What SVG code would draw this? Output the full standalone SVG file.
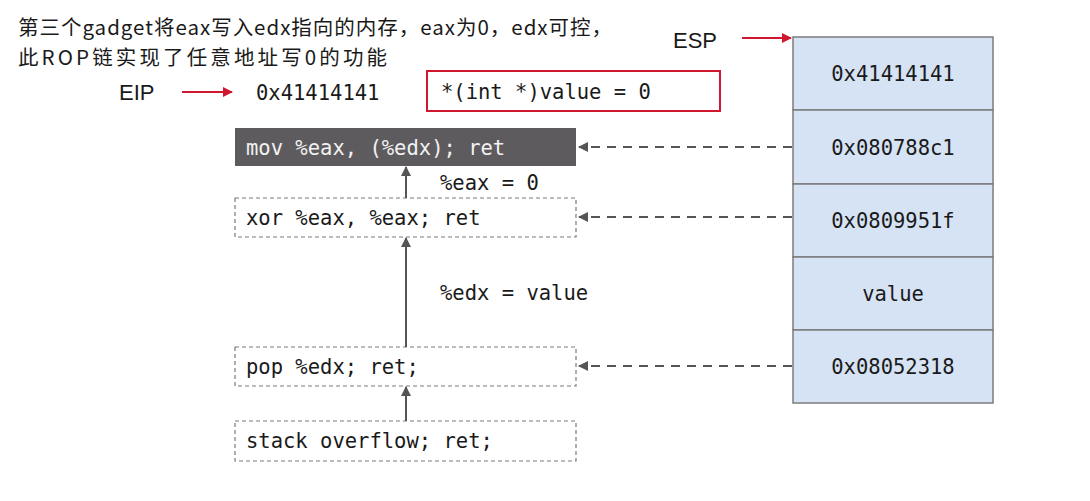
<svg xmlns="http://www.w3.org/2000/svg" width="1090" height="501" viewBox="0 0 1090 501">
<defs>
<style>
.cn{font-family:"Noto Sans CJK SC","Noto Sans",sans-serif;font-size:20.5px;fill:#1a1a1a}
.sans{font-family:"Liberation Sans",Arial,sans-serif;font-size:22px;fill:#1a1a1a}
.mono{font-family:"DejaVu Sans Mono","Liberation Mono",monospace;font-size:20.5px;fill:#1a1a1a}
.dash{fill:#ffffff;stroke:#7a7a7a;stroke-width:1.2;stroke-dasharray:4 3}
.cell{fill:#d6e3f4;stroke:#7c7c7c;stroke-width:1.5}
.red{stroke:#cf1830;stroke-width:2;fill:none}
.up{stroke:#555555;stroke-width:2;fill:none}
.ptr{stroke:#555555;stroke-width:2;fill:none;stroke-dasharray:9 7}
</style>
<marker id="ra" viewBox="0 0 10 10" refX="9" refY="5" markerWidth="10" markerHeight="10" markerUnits="userSpaceOnUse" orient="auto">
<path d="M0,0 L10,5 L0,10 z" fill="#cf1830"/>
</marker>
<marker id="ga" viewBox="0 0 10 10" refX="9" refY="5" markerWidth="10" markerHeight="12" markerUnits="userSpaceOnUse" orient="auto">
<path d="M0,0 L10,5 L0,10 z" fill="#555555"/>
</marker>
</defs>
<rect width="1090" height="501" fill="#ffffff"/>

<g id="title">
<text class="cn" x="18" y="35" textLength="594" lengthAdjust="spacing">第三个gadget将eax写入edx指向的内存，eax为0，edx可控，</text>
<text class="cn" x="18" y="65" textLength="369" lengthAdjust="spacing">此ROP链实现了任意地址写0的功能</text>
</g>

<g id="eip">
<text class="sans" x="119" y="100">EIP</text>
<text class="mono" x="256" y="100">0x41414141</text>
</g>
<g id="esp">
<text class="sans" x="673" y="48">ESP</text>
</g>
<g id="note">
<rect x="427" y="71" width="293" height="40" fill="#ffffff" class="red"/>
<text class="mono" x="441" y="99">*(int *)value = 0</text>
</g>

<g id="gadget-mov">
<rect x="235" y="128" width="341" height="38" fill="#5e5b5e"/>
<text class="mono" x="246" y="155" style="fill:#f2f2f2">mov %eax, (%edx); ret</text>
</g>
<g id="gadget-xor">
<rect class="dash" x="235" y="198" width="341" height="39"/>
<text class="mono" x="246" y="225">xor %eax, %eax; ret</text>
</g>
<g id="gadget-pop">
<rect class="dash" x="235" y="347" width="341" height="39"/>
<text class="mono" x="246" y="374">pop %edx; ret;</text>
</g>
<g id="overflow">
<rect class="dash" x="235" y="421" width="341" height="40"/>
<text class="mono" x="246" y="448">stack overflow; ret;</text>
</g>

<g id="labels">
<text class="mono" x="440" y="190">%eax = 0</text>
<text class="mono" x="440" y="300">%edx = value</text>
</g>

<g id="stack">
<rect class="cell" x="793" y="37" width="200" height="73"/>
<rect class="cell" x="793" y="110" width="200" height="74"/>
<rect class="cell" x="793" y="184" width="200" height="73"/>
<rect class="cell" x="793" y="257" width="200" height="73"/>
<rect class="cell" x="793" y="330" width="200" height="73"/>
<text class="mono" x="893" y="81" text-anchor="middle">0x41414141</text>
<text class="mono" x="893" y="155" text-anchor="middle">0x080788c1</text>
<text class="mono" x="893" y="228" text-anchor="middle">0x0809951f</text>
<text class="mono" x="893" y="301" text-anchor="middle">value</text>
<text class="mono" x="893" y="374" text-anchor="middle">0x08052318</text>
</g>

<g id="connectors">
<line class="red" x1="182" y1="92" x2="232" y2="92" marker-end="url(#ra)"/>
<line class="red" x1="742" y1="38" x2="791" y2="38" marker-end="url(#ra)"/>
<line class="up" x1="406" y1="198" x2="406" y2="167" marker-end="url(#ga)"/>
<line class="up" x1="406" y1="347" x2="406" y2="238" marker-end="url(#ga)"/>
<line class="up" x1="406" y1="421" x2="406" y2="387" marker-end="url(#ga)"/>
<line class="ptr" x1="792" y1="147" x2="579" y2="147" marker-end="url(#ga)"/>
<line class="ptr" x1="792" y1="217" x2="579" y2="217" marker-end="url(#ga)"/>
<line class="ptr" x1="792" y1="366" x2="579" y2="366" marker-end="url(#ga)"/>
</g>
</svg>
